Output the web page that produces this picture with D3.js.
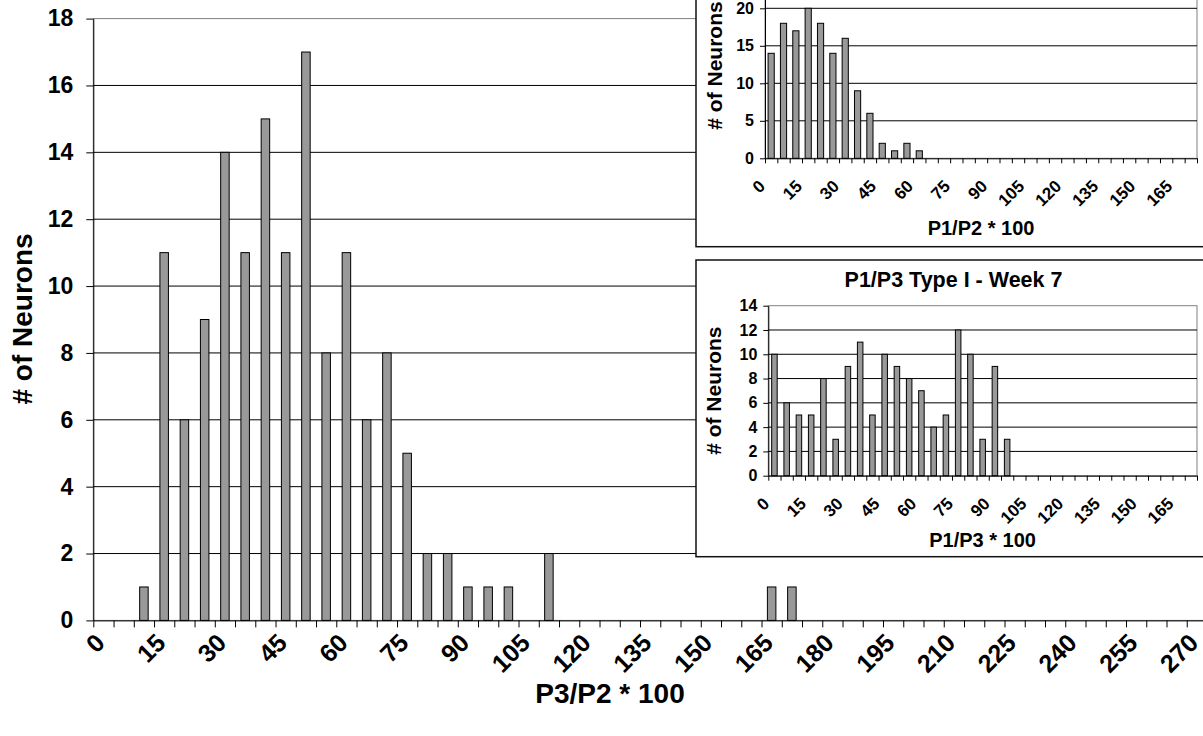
<!DOCTYPE html>
<html>
<head>
<meta charset="utf-8">
<script src="https://cdn.jsdelivr.net/npm/d3@7"></script>
<style>
  html, body { margin: 0; padding: 0; background: #fff; }
  svg { display: block; font-family: "Liberation Sans", Arial, sans-serif; font-weight: bold; }
</style>
</head>
<body>
<svg id="chart" width="1203" height="736"></svg>
<script>
// ---- Main histogram: P3/P2 * 100 (bins of 5) ----
const mainBins = [0,5,10,15,20,25,30,35,40,45,50,55,60,65,70,75,80,85,90,95,100,105,110,115,120,125,130,135,140,145,150,155,160,165,170,175,180,185,190,195,200,205,210,215,220,225,230,235,240,245,250,255,260,265,270];
const mainCounts = [0,0,1,11,6,9,14,11,15,11,17,8,11,6,8,5,2,2,1,1,1,0,2,0,0,0,0,0,0,0,0,0,0,1,1,0,0,0,0,0,0,0,0,0,0,0,0,0,0,0,0,0,0,0,0];
const mainTickLabels = ["0","15","30","45","60","75","90","105","120","135","150","165","180","195","210","225","240","255","270"];
const mainYTicks = [0,2,4,6,8,10,12,14,16,18];

// ---- Inset: P1/P2 * 100 ----
const p12Bins = [0,5,10,15,20,25,30,35,40,45,50,55,60,65,70,75,80,85,90,95,100,105,110,115,120,125,130,135,140,145,150,155,160,165,170];
const p12Counts = [14,18,17,20,18,14,16,9,6,2,1,2,1,0,0,0,0,0,0,0,0,0,0,0,0,0,0,0,0,0,0,0,0,0,0];
const p12TickLabels = ["0","15","30","45","60","75","90","105","120","135","150","165"];
const p12YTicks = [0,5,10,15,20];

// ---- Inset: P1/P3 Type I - Week 7 ----
const p13Bins = [0,5,10,15,20,25,30,35,40,45,50,55,60,65,70,75,80,85,90,95,100,105,110,115,120,125,130,135,140,145,150,155,160,165,170];
const p13Counts = [10,6,5,5,8,3,9,11,5,10,9,8,7,4,5,12,10,3,9,3,0,0,0,0,0,0,0,0,0,0,0,0,0,0,0];
const p13TickLabels = ["0","15","30","45","60","75","90","105","120","135","150","165"];
const p13YTicks = [0,2,4,6,8,10,12,14];

const svg = d3.select("#chart");

function histogram(g, cfg) {
  const n = cfg.bins.length;
  const slot = d3.scaleBand().domain(cfg.bins).range([cfg.x0, cfg.x1]).padding(0);
  const bar = d3.scaleBand().domain(cfg.bins).range([cfg.x0, cfg.x1])
    .paddingInner(1 - cfg.barFrac).paddingOuter((1 - cfg.barFrac) / 2);
  const edge = d3.scaleLinear().domain([0, n]).range([cfg.x0, cfg.x1]);
  const y = d3.scaleLinear().domain(cfg.yDomain).range([cfg.yBottom, cfg.yTop]);

  // plot area border (grey)
  g.append("rect")
    .attr("x", cfg.x0).attr("y", y(cfg.yDomain[1]))
    .attr("width", cfg.x1 - cfg.x0).attr("height", y(cfg.yDomain[0]) - y(cfg.yDomain[1]))
    .attr("fill", "none").attr("stroke", "#808080").attr("stroke-width", 1);

  // horizontal gridlines
  g.append("g").selectAll("line")
    .data(cfg.yTicks.filter(v => v > cfg.yDomain[0] && v < cfg.yDomain[1]))
    .join("line")
    .attr("x1", cfg.x0).attr("x2", cfg.x1)
    .attr("y1", d => y(d)).attr("y2", d => y(d))
    .attr("stroke", "#000").attr("stroke-width", 1);

  // bars
  g.append("g").selectAll("rect")
    .data(cfg.bins.map((b, i) => ({ b, v: cfg.counts[i] })).filter(d => d.v > 0))
    .join("rect")
    .attr("x", d => bar(d.b))
    .attr("width", bar.bandwidth())
    .attr("y", d => y(d.v))
    .attr("height", d => y(0) - y(d.v))
    .attr("fill", "#999999").attr("stroke", "#000").attr("stroke-width", 1);

  // x axis: ticks at category boundaries
  const xAxis = d3.axisBottom(edge).tickValues(d3.range(n + 1)).tickFormat("")
    .tickSizeInner(cfg.tick).tickSizeOuter(0);
  const gx = g.append("g").attr("transform", `translate(0,${y(0)})`).call(xAxis);
  gx.selectAll("path,line").attr("stroke", "#000");
  gx.attr("font-family", null).attr("font-size", null);

  // rotated category labels
  g.append("g").selectAll("text")
    .data(cfg.tickLabels)
    .join("text")
    .attr("text-anchor", "end")
    .attr("font-size", cfg.xLabelSize)
    .attr("transform", d => `translate(${slot(+d) + slot.bandwidth() / 2 + cfg.labelDx},${y(0) + cfg.labelDy}) rotate(-45)`)
    .text(d => d);

  // y axis
  const yAxis = d3.axisLeft(y).tickValues(cfg.yTicks).tickSizeInner(cfg.tick).tickSizeOuter(0)
    .tickPadding(cfg.yPad);
  const gy = g.append("g").attr("transform", `translate(${cfg.x0},0)`).call(yAxis);
  gy.selectAll("path,line").attr("stroke", "#000");
  gy.attr("font-family", null).attr("font-size", null);
  gy.selectAll("text").attr("font-size", cfg.yLabelSize).attr("fill", "#000");

  // axis titles
  g.append("text")
    .attr("text-anchor", "middle")
    .attr("font-size", cfg.titleSize)
    .attr("x", cfg.xTitleX)
    .attr("y", cfg.xTitleY)
    .text(cfg.xTitle);
  g.append("text")
    .attr("text-anchor", "middle")
    .attr("font-size", cfg.yTitleSize || cfg.titleSize)
    .attr("dy", "0.35em")
    .attr("transform", `translate(${cfg.yTitleX},${cfg.yTitleY}) rotate(-90)`)
    .text(cfg.yTitle);
}

// main chart
histogram(svg.append("g"), {
  bins: mainBins, counts: mainCounts, tickLabels: mainTickLabels, yTicks: mainYTicks,
  x0: 93.3, x1: 1207, yDomain: [0, 18], yBottom: 620.4, yTop: 18.6,
  barFrac: 0.42, tick: 7, yPad: 13, labelDx: 3, labelDy: 24,
  xLabelSize: 25, yLabelSize: 23, titleSize: 28,
  xTitle: "P3/P2 * 100", xTitleX: 610, xTitleY: 703,
  yTitle: "# of Neurons", yTitleX: 22, yTitleY: 319
});

// inset: P1/P2
const inset1 = svg.append("g");
inset1.append("rect").attr("x", 696).attr("y", -60).attr("width", 530).attr("height", 306.7)
  .attr("fill", "#fff").attr("stroke", "#111").attr("stroke-width", 1.5);
histogram(inset1, {
  bins: p12Bins, counts: p12Counts, tickLabels: p12TickLabels, yTicks: p12YTicks,
  x0: 765, x1: 1197, yDomain: [0, 25], yBottom: 158.3, yTop: -29.2,
  barFrac: 0.5, tick: 5, yPad: 6, labelDx: -5, labelDy: 29,
  xLabelSize: 17, yLabelSize: 16, titleSize: 20, yTitleSize: 21,
  xTitle: "P1/P2 * 100", xTitleX: 981, xTitleY: 235,
  yTitle: "# of Neurons", yTitleX: 714.5, yTitleY: 65.5
});

// inset: P1/P3 Type I - Week 7
const inset2 = svg.append("g");
inset2.append("rect").attr("x", 696).attr("y", 260).attr("width", 530).attr("height", 296.7)
  .attr("fill", "#fff").attr("stroke", "#111").attr("stroke-width", 1.5);
inset2.append("text")
  .attr("text-anchor", "middle").attr("font-size", 21.5)
  .attr("x", 953.5).attr("y", 287)
  .text("P1/P3 Type I - Week 7");
histogram(inset2, {
  bins: p13Bins, counts: p13Counts, tickLabels: p13TickLabels, yTicks: p13YTicks,
  x0: 768.3, x1: 1197, yDomain: [0, 14], yBottom: 475.7, yTop: 305.7,
  barFrac: 0.45, tick: 5, yPad: 6, labelDx: -4, labelDy: 29,
  xLabelSize: 17, yLabelSize: 16, titleSize: 20, yTitleSize: 21,
  xTitle: "P1/P3 * 100", xTitleX: 982.6, xTitleY: 546.5,
  yTitle: "# of Neurons", yTitleX: 713.5, yTitleY: 390.7
});
</script>
</body>
</html>
